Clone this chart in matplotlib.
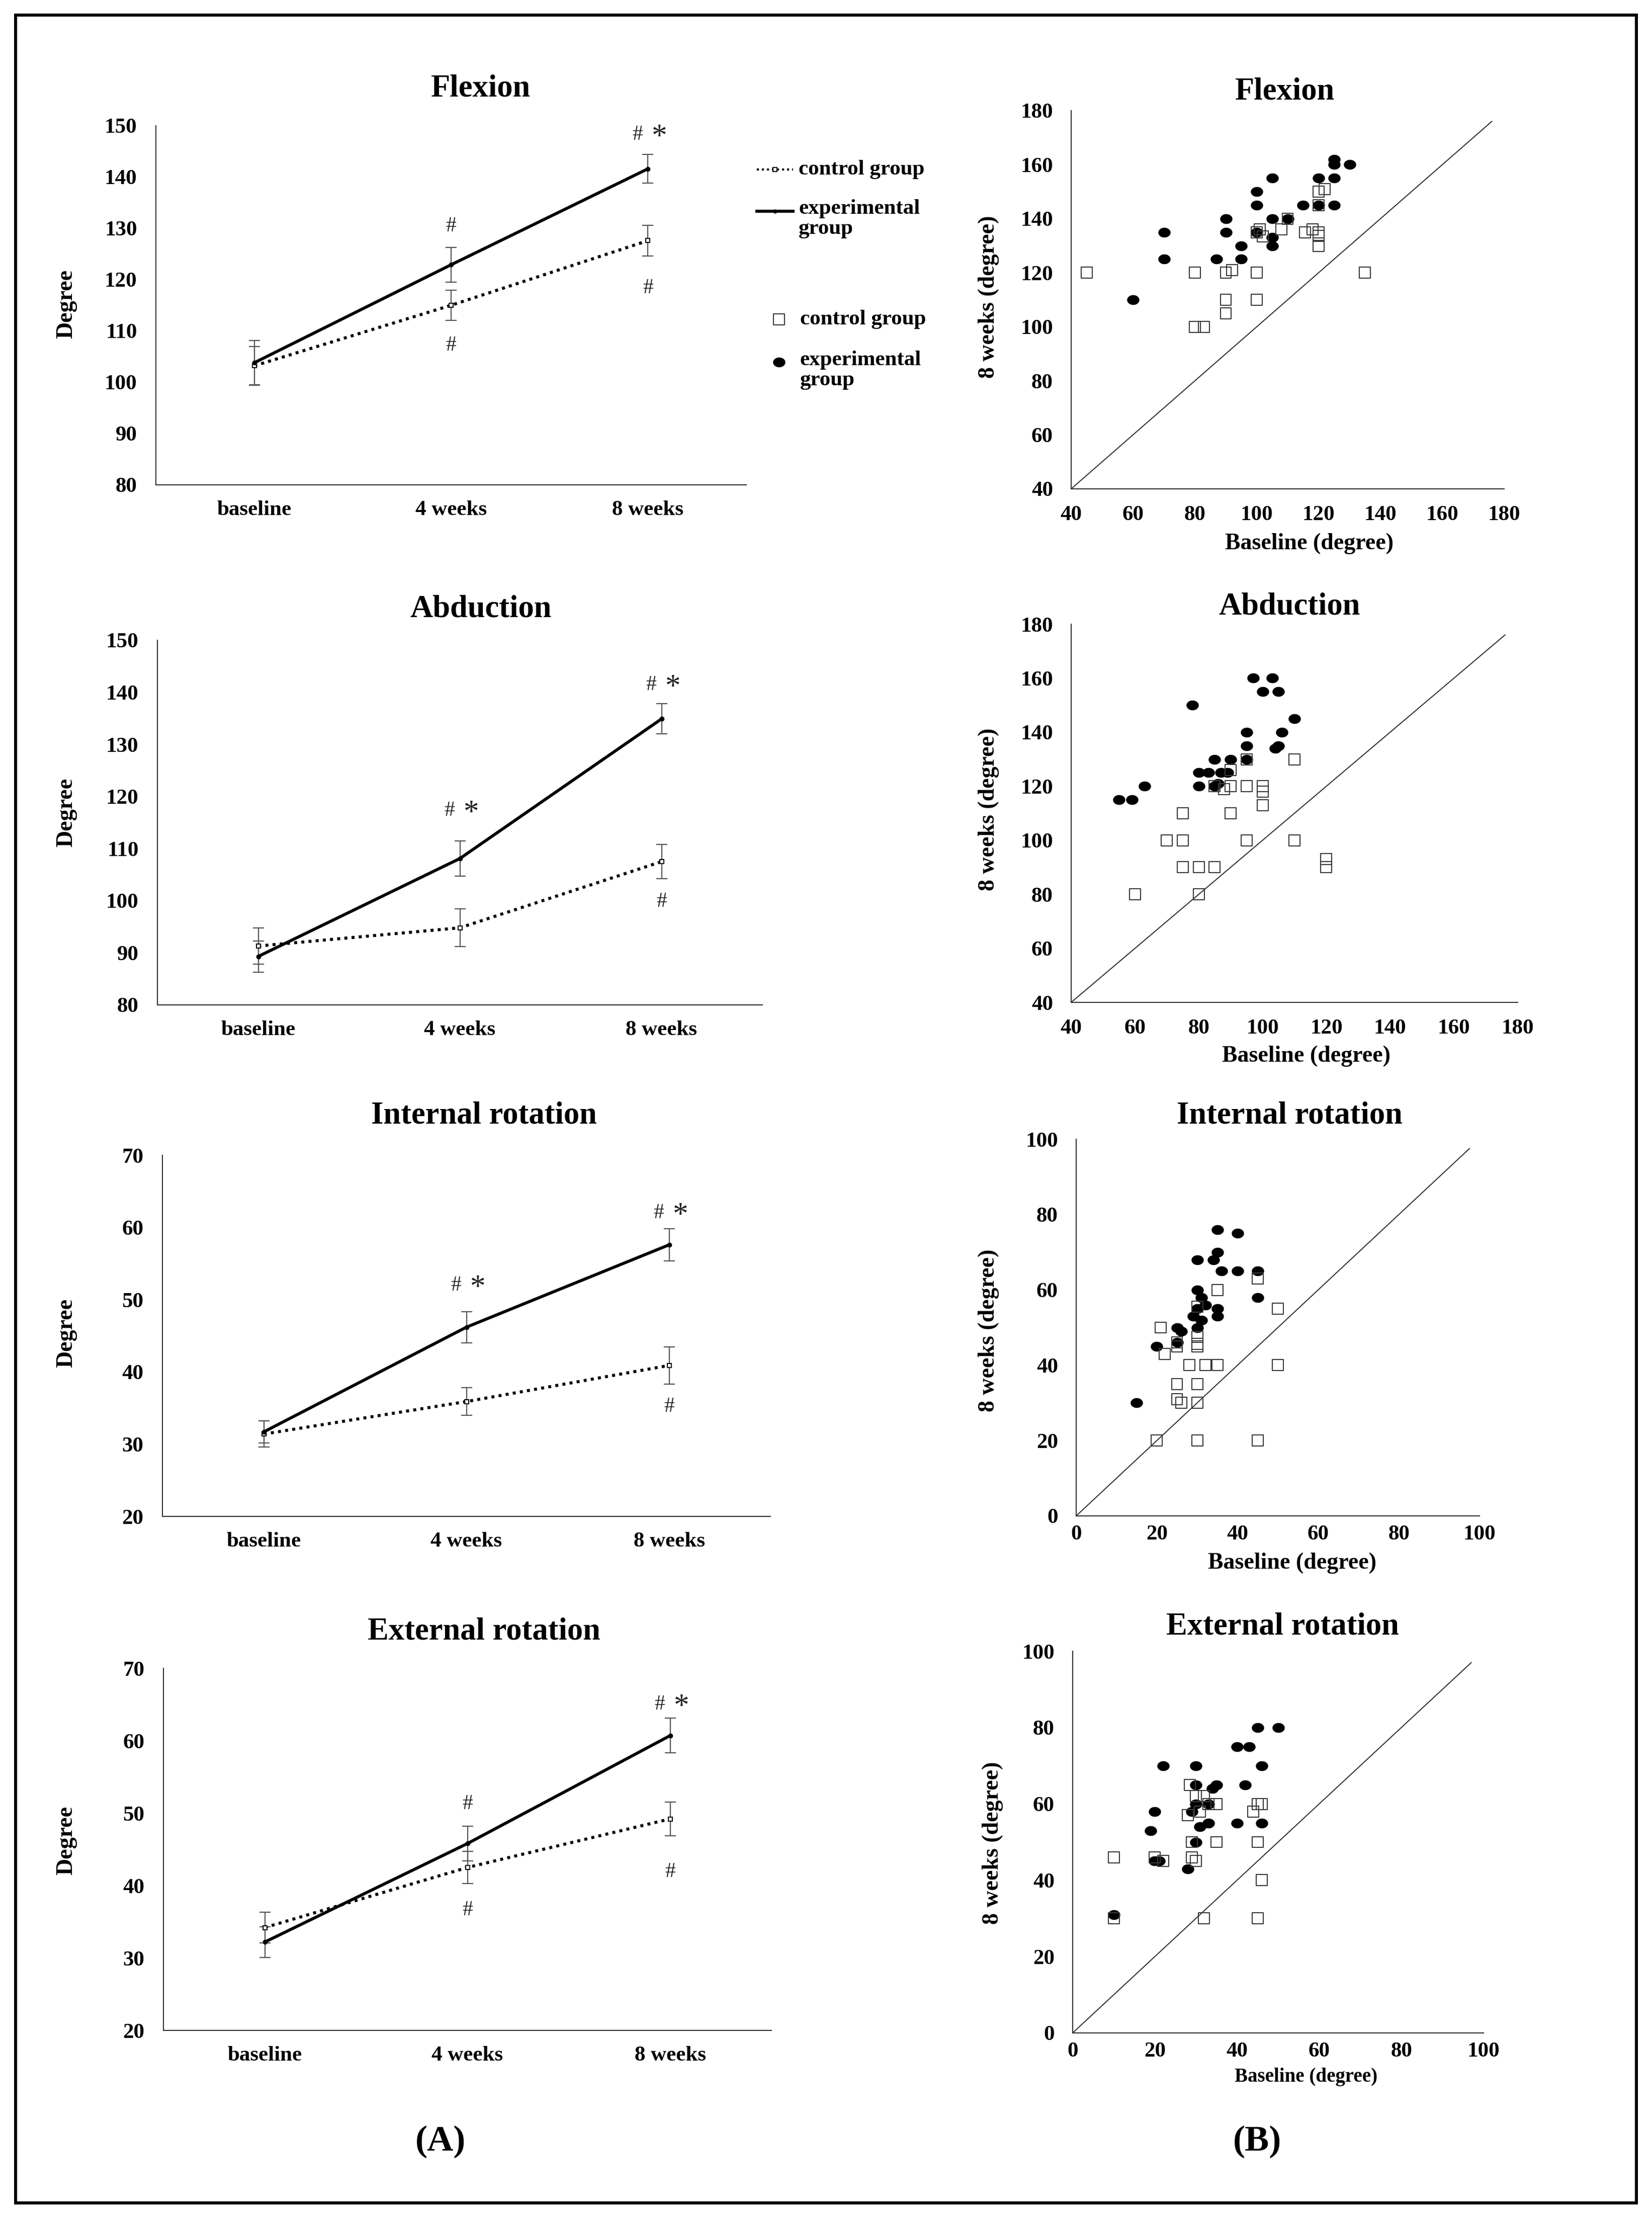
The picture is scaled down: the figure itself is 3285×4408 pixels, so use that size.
import numpy as np
import matplotlib
matplotlib.use('Agg')
import matplotlib.pyplot as plt
from matplotlib.path import Path
from matplotlib.patches import Rectangle

plt.rcParams['font.family'] = ['Liberation Serif', 'DejaVu Serif']
plt.rcParams['font.weight'] = 'bold'

W, H = 3285, 4408
DPI = 100

TIMEPOINTS = ['baseline', '4 weeks', '8 weeks']

# ---- (A) mean +/- error over time ----
flex_ctrl = [103.2, 115.0, 127.6]
flex_ctrl_err = [3.8, 2.9, 3.0]
flex_exp = [103.8, 122.9, 141.6]
flex_exp_err = [4.3, 3.4, 2.8]
flex_marks = [(2, 148.3, '# *'), (1, 130.4, '#'), (1, 107.2, '#'), (2, 118.4, '#')]

abd_ctrl = [91.3, 94.8, 107.5]
abd_ctrl_err = [3.5, 3.6, 3.3]
abd_exp = [89.3, 108.1, 134.9]
abd_exp_err = [3.0, 3.4, 2.9]
abd_marks = [(1, 117.3, '# *'), (2, 141.4, '# *'), (2, 99.8, '#')]

ir_ctrl = [31.4, 35.9, 40.9]
ir_ctrl_err = [1.8, 1.9, 2.6]
ir_exp = [31.7, 46.2, 57.6]
ir_exp_err = [1.5, 2.15, 2.2]
ir_marks = [(1, 52.0, '# *'), (2, 62.0, '# *'), (2, 35.2, '#')]

er_ctrl = [34.2, 42.5, 49.2]
er_ctrl_err = [2.1, 2.2, 2.3]
er_exp = [32.2, 45.8, 60.7]
er_exp_err = [2.1, 2.4, 2.4]
er_marks = [(2, 65.0, '# *'), (1, 51.3, '#'), (1, 36.6, '#'), (2, 41.9, '#')]

# ---- (B) baseline vs 8 weeks, individual patients ----
flex_c_base = [45, 80, 80, 83, 90, 92, 90, 90, 100, 100, 100, 101, 102, 108, 110, 115.6, 118, 120, 120, 120, 120, 122, 120, 135]
flex_c_8w = [120, 120, 100, 100, 120, 121, 110, 105, 120, 110, 135, 136, 133.5, 136, 140, 135, 136, 135, 133.7, 130, 150, 151, 145, 120]
flex_e_base = [60, 70, 70, 90, 90, 87, 95, 95, 100, 100, 100, 105, 105, 105, 105, 110, 115, 120, 120, 125, 125, 125, 125, 130]
flex_e_8w = [110, 135, 125, 140, 135, 125, 130, 125, 150, 145, 135, 155, 140, 133, 130, 140, 145, 155, 145, 162, 160, 155, 145, 160]

abd_c_base = [60, 70, 75, 75, 75, 80, 80, 85, 85, 88, 90, 90, 90, 95, 95, 95, 100, 100, 100, 110, 110, 120, 120]
abd_c_8w = [80, 100, 100, 110, 90, 90, 80, 90, 120, 119, 126, 120, 110, 130, 120, 100, 120, 118, 113, 130, 100, 93, 90]
abd_e_base = [55, 59, 63, 78, 80, 80, 83, 85, 85, 86, 87, 89, 90, 95, 95, 95, 97, 100, 103, 105, 106, 104, 105, 110]
abd_e_8w = [115, 115, 120, 150, 125, 120, 125, 130, 120, 121, 125, 125, 130, 140, 135, 130, 160, 155, 160, 155, 140, 134, 135, 145]

ir_c_base = [20, 21, 22, 25, 25, 25, 25, 26, 28, 30, 30, 30, 30, 30, 30, 30, 32, 35, 35, 45, 45, 50, 50]
ir_c_8w = [20, 50, 43, 46, 45, 35, 31, 30, 40, 55.5, 47.5, 45.6, 45, 35, 30, 20, 40, 40, 60, 63, 20, 55, 40]
ir_e_base = [15, 20, 25, 25, 26, 30, 30, 31, 32, 30, 29, 31, 30, 34, 35, 35, 36, 40, 40, 35, 35, 45, 45]
ir_e_8w = [30, 45, 50, 46, 49, 68, 60, 58, 56, 55, 53, 52, 50, 68, 70, 76, 65, 75, 65, 55, 53, 65, 58]

er_c_base = [10, 10, 20, 22, 28, 28.5, 29, 29, 30, 30, 31, 32, 33, 35, 35, 32, 44, 45, 46, 45, 46, 45]
er_c_8w = [30, 46, 46, 45, 57, 65, 50, 46, 45, 62, 58, 62, 60, 60, 50, 30, 58, 60, 60, 50, 40, 30]
er_e_base = [10, 19, 20, 20, 21, 22, 28, 29, 30, 30, 30, 30, 31, 33, 33, 34, 35, 40, 40, 42, 43, 45, 46, 46, 50]
er_e_8w = [31, 53, 58, 45, 45, 70, 43, 58, 70, 65, 60, 50, 54, 55, 60, 64, 65, 75, 55, 65, 75, 80, 70, 55, 80]

FS_TICK = 31
FS_TITLE = 45
FS_LABEL = 33


def px_axes(fig, left, top, right, bottom):
    return fig.add_axes([left / W, 1 - bottom / H, (right - left) / W, (bottom - top) / H])


def ftext(fig, x, y, s, **kw):
    kw.setdefault('ha', 'center')
    kw.setdefault('va', 'center')
    return fig.text(x / W, 1 - y / H, s, **kw)


def style_axes(ax, xpad=26, ypad=26):
    for side in ('top', 'right'):
        ax.spines[side].set_visible(False)
    for side in ('left', 'bottom'):
        ax.spines[side].set_color('#303030')
        ax.spines[side].set_linewidth(1.5)
    ax.tick_params(length=0, labelsize=FS_TICK)
    ax.tick_params(axis='x', pad=xpad)
    ax.tick_params(axis='y', pad=ypad)
    for lab in ax.get_xticklabels() + ax.get_yticklabels():
        lab.set_fontweight('bold')


def sig_mark(ax, xi, yv, s):
    # '#' normal size, the '*' a bit larger, like the original figure
    if s == '# *':
        ax.annotate('#', (xi, yv), xytext=(-15, 0), textcoords='offset points',
                    ha='center', va='center', fontsize=30, fontweight='normal', color='#222222')
        ax.annotate('*', (xi, yv), xytext=(16, -4), textcoords='offset points',
                    ha='center', va='center', fontsize=44, fontweight='normal', color='#222222')
    else:
        ax.text(xi, yv, s, ha='center', va='center', fontsize=30,
                fontweight='normal', color='#222222')


def line_panel(fig, box, ylim, ctrl, ctrl_err, exp, exp_err, marks):
    ax = px_axes(fig, *box)
    x = np.arange(len(TIMEPOINTS))
    for y, e in ((ctrl, ctrl_err), (exp, exp_err)):
        ax.errorbar(x, y, yerr=e, fmt='none', ecolor='#555555',
                    elinewidth=1.6, capsize=8, capthick=1.6, zorder=2)
    ax.plot(x, ctrl, color='k', lw=4.3, linestyle=(0, (1, 1.4)),
            marker='s', ms=6, mfc='white', mec='k', mew=1.5, zorder=3)
    ax.plot(x, exp, color='k', lw=4.3, marker='o', ms=6, zorder=4)
    for xi, yv, s in marks:
        sig_mark(ax, xi, yv, s)
    ax.set_xlim(-0.5, 2.5)
    ax.set_ylim(*ylim)
    ax.set_yticks(np.arange(ylim[0], ylim[1] + 1, 10))
    ax.set_xticks(x)
    ax.set_xticklabels(TIMEPOINTS)
    style_axes(ax, xpad=22, ypad=27)
    return ax


# slightly flattened dot, as in the original scatter plots
t = np.linspace(0, 2 * np.pi, 60)
ELLIPSE = Path(np.column_stack([np.cos(t), 0.8 * np.sin(t)]), closed=True)


def scatter_panel(fig, box, lim, ticks, diag_end, cb, c8, eb, e8, xpad):
    ax = px_axes(fig, *box)
    ax.plot([lim[0], diag_end], [lim[0], diag_end], color='#333333', lw=1.5, zorder=1)
    ax.scatter(eb, e8, s=310, marker=ELLIPSE, color='k', linewidths=0, zorder=2)
    ax.scatter(cb, c8, s=250, marker='s', facecolors='none',
               edgecolors='#3a3a3a', linewidths=1.5, zorder=3)
    ax.set_xlim(*lim)
    ax.set_ylim(*lim)
    ax.set_xticks(ticks)
    ax.set_yticks(ticks)
    style_axes(ax, xpad=xpad, ypad=26)
    return ax


fig = plt.figure(figsize=(W / DPI, H / DPI), dpi=DPI)

# column (A)
line_panel(fig, (310, 250, 1484, 964), (80, 150), flex_ctrl, flex_ctrl_err, flex_exp, flex_exp_err, flex_marks)
line_panel(fig, (313, 1273, 1516, 1998), (80, 150), abd_ctrl, abd_ctrl_err, abd_exp, abd_exp_err, abd_marks)
line_panel(fig, (323, 2297, 1532, 3015), (20, 70), ir_ctrl, ir_ctrl_err, ir_exp, ir_exp_err, ir_marks)
line_panel(fig, (325, 3317, 1534, 4037), (20, 70), er_ctrl, er_ctrl_err, er_exp, er_exp_err, er_marks)

ftext(fig, 956, 177, 'Flexion', fontsize=FS_TITLE)
ftext(fig, 956, 1211, 'Abduction', fontsize=FS_TITLE)
ftext(fig, 962, 2219, 'Internal rotation', fontsize=FS_TITLE)
ftext(fig, 962, 3244, 'External rotation', fontsize=FS_TITLE)
for ylab in (604, 1615, 2650, 3659):
    ftext(fig, 132, ylab, 'Degree', fontsize=FS_LABEL, rotation=90)

# column (B)
big = np.arange(40, 181, 20)
small = np.arange(0, 101, 20)
scatter_panel(fig, (2130, 220, 2991, 972), (40, 180), big, 176,
              flex_c_base, flex_c_8w, flex_e_base, flex_e_8w, 24)
scatter_panel(fig, (2130, 1241, 3018, 1993), (40, 180), big, 176,
              abd_c_base, abd_c_8w, abd_e_base, abd_e_8w, 24)
scatter_panel(fig, (2140, 2265, 2942, 3014), (0, 100), small, 97.5,
              ir_c_base, ir_c_8w, ir_e_base, ir_e_8w, 13)
scatter_panel(fig, (2133, 3283, 2950, 4042), (0, 100), small, 97,
              er_c_base, er_c_8w, er_e_base, er_e_8w, 13)

ftext(fig, 2555, 183, 'Flexion', fontsize=FS_TITLE)
ftext(fig, 2564, 1207, 'Abduction', fontsize=FS_TITLE)
ftext(fig, 2564, 2218, 'Internal rotation', fontsize=FS_TITLE)
ftext(fig, 2550, 3235, 'External rotation', fontsize=FS_TITLE)
for xl, yl in ((1966, 590), (1966, 1609), (1966, 2645), (1974, 3664)):
    ftext(fig, xl, yl, '8 weeks (degree)', fontsize=FS_LABEL, rotation=90)
for xl, yl, fs in ((2603, 1081, FS_LABEL), (2597, 2100, FS_LABEL),
                   (2569, 3108, FS_LABEL), (2597, 4130, 28)):
    ftext(fig, xl, yl, 'Baseline (degree)', fontsize=fs)

ftext(fig, 876, 4258, '(A)', fontsize=52)
ftext(fig, 2500, 4258, '(B)', fontsize=52)

# overlay in pixel units for the frame and the legends
ov = fig.add_axes([0, 0, 1, 1])
ov.set_xlim(0, W)
ov.set_ylim(H, 0)
ov.axis('off')
ov.patch.set_visible(False)
ov.add_patch(Rectangle((31, 30), 3223, 4350, fill=False, lw=4.3, edgecolor='k'))

ov.plot([1505, 1577], [337, 337], color='k', lw=3, linestyle=(0, (1, 1.4)))
ov.plot([1541], [337], marker='s', ms=6, mfc='white', mec='k', mew=1.5)
ov.plot([1505, 1577], [420, 420], color='k', lw=4.3)
ov.plot([1541], [420], marker='o', ms=5, color='k')
ov.text(1588, 337, 'control group', fontsize=31, va='center')
ov.text(1588, 396, 'experimental\ngroup', fontsize=31, va='top', linespacing=1.08)

ov.scatter([1549], [635], s=250, marker='s', facecolors='none', edgecolors='#3a3a3a', linewidths=1.5)
ov.scatter([1549], [720], s=310, marker=ELLIPSE, color='k', linewidths=0)
ov.text(1591, 635, 'control group', fontsize=31, va='center')
ov.text(1591, 697, 'experimental\ngroup', fontsize=31, va='top', linespacing=1.08)

fig.savefig('out.png', dpi=DPI)
